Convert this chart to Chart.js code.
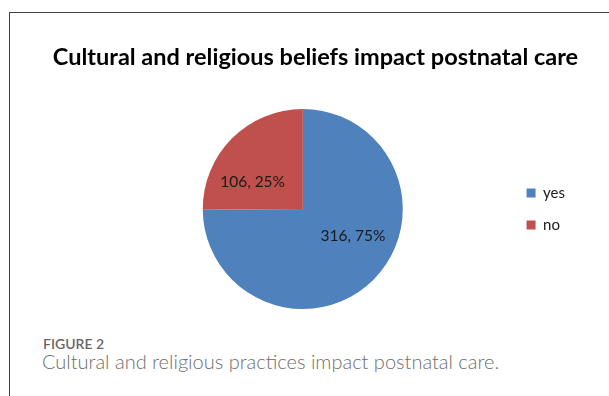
<!DOCTYPE html>
<html>
<head>
<meta charset="utf-8">
<script src="https://cdn.jsdelivr.net/npm/chart.js@4.4.1/dist/chart.umd.min.js"></script>
<style>
  html, body { margin: 0; padding: 0; background: #fff; width: 609px; height: 396px; overflow: hidden; }
  .frame { position: absolute; left: 9px; top: 12px; width: 640px; height: 420px;
           border-left: 1px solid #404040; border-top: 1px solid #404040; }
  #chart { position: absolute; left: 0; top: 0; }
  .chart-title { position: absolute; left: 0; top: 44px; width: 631px; text-align: center; line-height: 24px;
                 font: bold 23.5px/24px Lato, "Open Sans", sans-serif; color: #000; white-space: nowrap; }
  .fig-label { position: absolute; left: 43px; top: 335px; font: 600 14px Lato, "Open Sans", sans-serif; color: #666; }
  .fig-caption { position: absolute; left: 42px; top: 351px; font: 300 20px/20px Lato, "Open Sans", sans-serif; color: #6e6e6e; white-space: nowrap; }
</style>
</head>
<body>
<div class="frame"></div>
<canvas id="chart" width="609" height="309"></canvas>
<div class="chart-title" id="title"></div>
<div class="fig-label">FIGURE 2</div>
<div class="fig-caption">Cultural and religious practices impact postnatal care.</div>
<script>
// pie: cultural / religious beliefs vs postnatal care
const titleText = 'Cultural and religious beliefs impact postnatal care';
const categories = ['yes', 'no'];
const counts = [316, 106];
const sliceColors = ['#4F81BD', '#C0504D'];

document.getElementById('title').textContent = titleText;

// "value, pct%" labels inside the slices (Excel style)
const sliceLabels = {
  id: 'sliceLabels',
  afterDatasetsDraw(chart) {
    const ctx = chart.ctx;
    const data = chart.data.datasets[0].data;
    const total = data.reduce((s, n) => s + n, 0);
    const arcs = chart.getDatasetMeta(0).data;
    ctx.save();
    ctx.font = '15.5px Lato, "Open Sans", sans-serif';
    ctx.fillStyle = '#1a1a1a';
    ctx.textAlign = 'center';
    ctx.textBaseline = 'middle';
    arcs.forEach((arc, i) => {
      const { x, y, startAngle, endAngle, outerRadius } = arc.getProps(['x', 'y', 'startAngle', 'endAngle', 'outerRadius'], true);
      const mid = (startAngle + endAngle) / 2;
      const lx = x + Math.cos(mid) * 0.707 * outerRadius;
      const ly = y + Math.sin(mid) * 0.39 * outerRadius;
      const pct = Math.round(data[i] / total * 100);
      ctx.fillText(`${data[i]}, ${pct}%`, lx, ly);
    });
    ctx.restore();
  }
};

new Chart(document.getElementById('chart'), {
  type: 'pie',
  data: {
    labels: categories,
    datasets: [{
      data: counts,
      backgroundColor: sliceColors,
      borderWidth: 0,
      hoverOffset: 0
    }]
  },
  options: {
    responsive: false,
    animation: false,
    layout: { padding: { left: 96, right: 34, top: 109, bottom: 0 } },
    plugins: {
      title: { display: false },
      legend: {
        position: 'right',
        align: 'center',
        labels: {
          boxWidth: 9,
          boxHeight: 9,
          padding: 17,
          color: '#1a1a1a',
          font: { family: 'Lato, "Open Sans", sans-serif', size: 15 }
        }
      },
      tooltip: { enabled: false }
    }
  },
  plugins: [sliceLabels]
});
</script>
</body>
</html>
